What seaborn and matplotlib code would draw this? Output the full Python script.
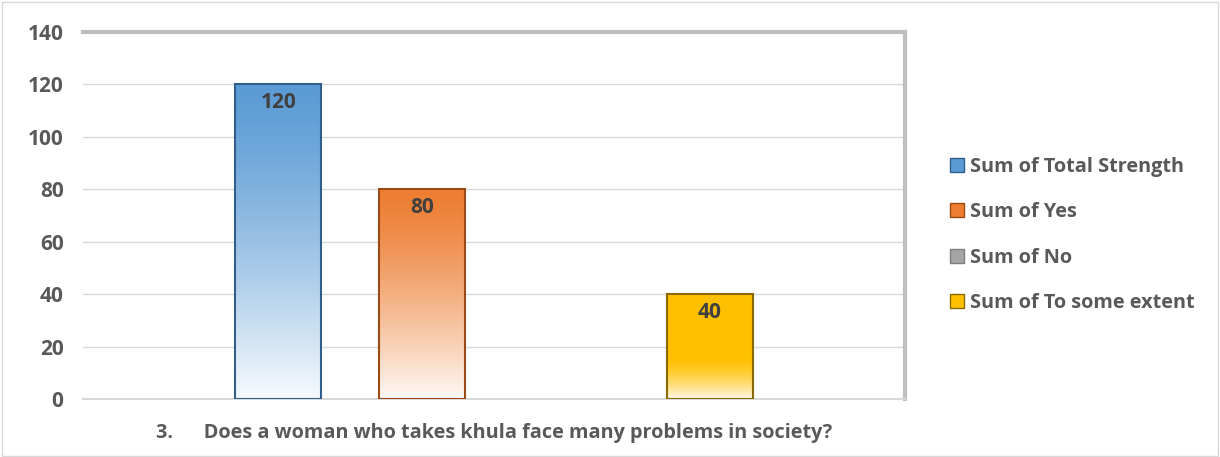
import numpy as np
import pandas as pd
import seaborn as sns
import matplotlib.pyplot as plt
from matplotlib.patches import Patch, Rectangle
from matplotlib.colors import to_rgb

# datos
series = ["Sum of Total Strength", "Sum of Yes", "Sum of No", "Sum of To some extent"]
values = [120, 80, 0, 40]
question = "3.      Does a woman who takes khula face many problems in society?"
yticks = [0, 20, 40, 60, 80, 100, 120, 140]

colors = ["#5B9BD5", "#ED7D31", "#A5A5A5", "#FFC000"]
edges = ["#2F5F8A", "#9A4A14", "#7F7F7F", "#8A6A00"]

df = pd.DataFrame({"question": [question] * len(series), "series": series, "value": values})

sns.set_style("white")
plt.rcParams['font.family'] = ['Open Sans', 'DejaVu Sans']

fig = plt.figure(figsize=(12.2, 4.57), dpi=100)
ax = fig.add_axes([0.068, 0.127, 0.674, 0.803])

sns.barplot(data=df, x="question", y="value", hue="series", hue_order=series,
            palette=colors, width=0.7, gap=0.4, legend=False, ax=ax)

ax.set_ylim(0, 140)
ax.set_yticks(yticks)
ax.yaxis.grid(True, color="#D9D9D9", linewidth=1)
ax.set_axisbelow(True)
ax.set_xlabel("")
ax.set_ylabel("")
ax.tick_params(axis="y", length=0, pad=14, labelsize=15, labelcolor="#595959")
ax.tick_params(axis="x", length=0, pad=17, labelsize=14.3, labelcolor="#595959")
for lab in ax.get_yticklabels() + ax.get_xticklabels():
    lab.set_fontweight("bold")

# relleno degradado tipo Excel
bars = [p for p in ax.patches if isinstance(p, Rectangle)]
for p, val, c, e in zip(bars, values, colors, edges):
    if val <= 0:
        continue
    x0, y0, w, h = p.get_x(), p.get_y(), p.get_width(), p.get_height()
    top = np.array(to_rgb(c))
    t = np.linspace(0, 1, 200)[:, None]
    if c == "#FFC000":
        mix = np.clip((t - 0.6) / 0.4, 0, 1) ** 1.5 * 0.9
    else:
        mix = t ** 1.3 * 0.95
    grad = top * (1 - mix) + np.ones(3) * mix
    img = np.repeat(grad[:, None, :], 2, axis=1)
    im = ax.imshow(img, extent=[x0, x0 + w, y0, y0 + h], origin="upper",
                   aspect="auto", zorder=2)
    im.set_clip_path(p)
    p.set_facecolor("none")
    p.set_edgecolor(e)
    p.set_linewidth(1.5)
    p.set_zorder(3)
    ax.text(x0 + w / 2, y0 + h - 3, str(val), ha="center", va="top",
            fontsize=15, fontweight="bold", color="#404040", zorder=4)

ax.set_xlim(-0.5, 0.5)
ax.set_ylim(0, 140)

ax.spines["left"].set_visible(False)
ax.spines["top"].set_color("#BFBFBF")
ax.spines["top"].set_linewidth(3)
ax.spines["right"].set_color("#BFBFBF")
ax.spines["right"].set_linewidth(3)
ax.spines["bottom"].set_color("#D9D9D9")
ax.spines["bottom"].set_linewidth(1.5)

handles = [Patch(facecolor=c, edgecolor=e) for c, e in zip(colors, edges)]
leg = ax.legend(handles, series, loc="center left", bbox_to_anchor=(1.045, 0.447),
                frameon=False, handlelength=0.7, handleheight=0.7, handletextpad=0.3,
                labelspacing=1.27, borderaxespad=0,
                prop={"size": 14.3, "weight": "bold"})
for t in leg.get_texts():
    t.set_color("#595959")

fig.patches.append(Rectangle((0.002, 0.002), 0.996, 0.994, transform=fig.transFigure,
                             fill=False, edgecolor="#D9D9D9", linewidth=1))

fig.savefig("out.png", dpi=100)
